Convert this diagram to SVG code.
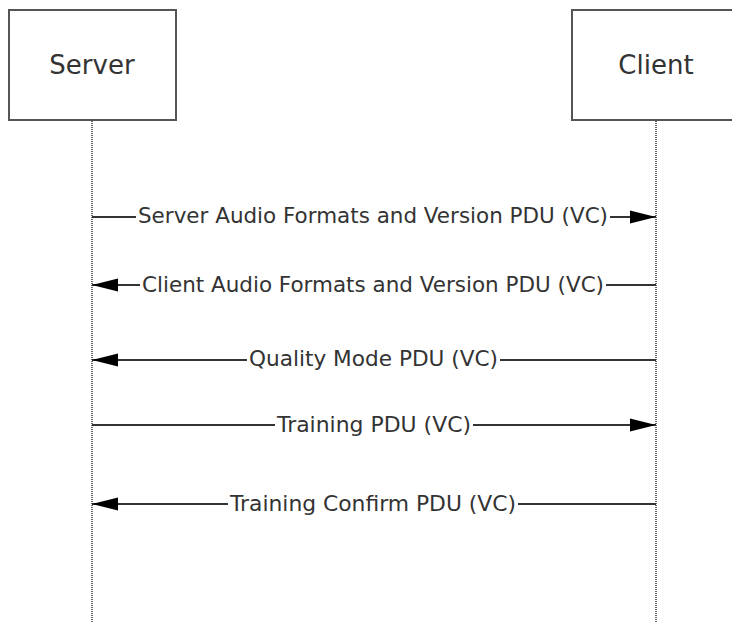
<svg xmlns="http://www.w3.org/2000/svg" width="732" height="622" viewBox="0 0 732 622">
<defs>
<style>
.box{fill:#fff;stroke:#555;stroke-width:2}
.ttl{font-family:"DejaVu Sans",Verdana,sans-serif;font-size:26px;fill:#333;text-anchor:middle}
.life{stroke:#666;stroke-width:2;stroke-dasharray:1 1;fill:none}
.msg{stroke:#333;stroke-width:2;fill:none}
.lbl{font-family:"DejaVu Sans",Verdana,sans-serif;font-size:21px;fill:#333;text-anchor:middle}
.bg{fill:#fff}
</style>
<marker id="ah" markerUnits="userSpaceOnUse" markerWidth="26" markerHeight="14" refX="26" refY="7" orient="auto">
<path d="M0,0.5 L26,7 L0,13.5 Z" fill="#000"/>
</marker>
</defs>
<g id="lifelines">
<line class="life" x1="92" y1="121" x2="92" y2="622"/>
<line class="life" x1="656" y1="121" x2="656" y2="622"/>
</g>
<g id="server">
<rect class="box" x="9" y="10" width="167" height="110"/>
<text class="ttl" x="92" y="74">Server</text>
</g>
<g id="client">
<rect class="box" x="572" y="10" width="168" height="110"/>
<text class="ttl" x="656" y="74">Client</text>
</g>
<g id="connectors">
<line class="msg" x1="92" y1="217" x2="656" y2="217" marker-end="url(#ah)"/>
<line class="msg" x1="656" y1="285" x2="92" y2="285" marker-end="url(#ah)"/>
<line class="msg" x1="656" y1="360" x2="92" y2="360" marker-end="url(#ah)"/>
<line class="msg" x1="92" y1="425" x2="656" y2="425" marker-end="url(#ah)"/>
<line class="msg" x1="656" y1="504" x2="92" y2="504" marker-end="url(#ah)"/>
</g>
<g id="labels">
<rect class="bg" x="136" y="204" width="474" height="24"/>
<text class="lbl" x="373" y="223" textLength="470" lengthAdjust="spacingAndGlyphs">Server Audio Formats and Version PDU (VC)</text>
<rect class="bg" x="140" y="273" width="466" height="24"/>
<text class="lbl" x="373" y="292" textLength="462" lengthAdjust="spacingAndGlyphs">Client Audio Formats and Version PDU (VC)</text>
<rect class="bg" x="247" y="347" width="253" height="24"/>
<text class="lbl" x="373.5" y="366" textLength="249" lengthAdjust="spacingAndGlyphs">Quality Mode PDU (VC)</text>
<rect class="bg" x="275" y="413" width="198" height="24"/>
<text class="lbl" x="374" y="432" textLength="194" lengthAdjust="spacingAndGlyphs">Training PDU (VC)</text>
<rect class="bg" x="228" y="492" width="290" height="24"/>
<text class="lbl" x="373" y="511" textLength="286" lengthAdjust="spacingAndGlyphs">Training Confirm PDU (VC)</text>
</g>
</svg>
